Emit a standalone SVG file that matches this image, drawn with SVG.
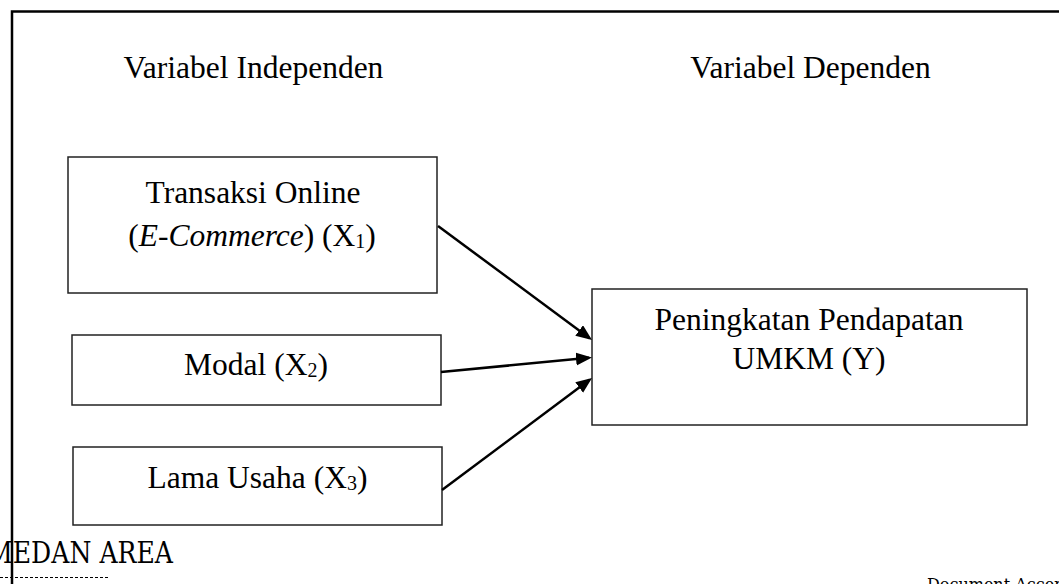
<svg xmlns="http://www.w3.org/2000/svg" width="1059" height="584" viewBox="0 0 1059 584">
<style>
.box{fill:#fff;stroke:#222;stroke-width:1.5}
.t{font-family:"Liberation Serif","Times New Roman",serif;font-size:31.5px;fill:#000;text-anchor:middle}
.sub{font-size:20px}
.conn{stroke:#000;stroke-width:2.5;fill:none;marker-end:url(#ah)}
</style>
<defs>
<marker id="ah" markerUnits="userSpaceOnUse" markerWidth="17" markerHeight="14" refX="13" refY="6.5" orient="auto">
<path d="M0,0 L16,6.5 L0,13 z" fill="#000"/>
</marker>
</defs>
<rect width="1059" height="584" fill="#fff"/>
<path d="M12,584 V11.5 H1059" fill="none" stroke="#000" stroke-width="2.5"/>
<text class="t" x="253.5" y="78">Variabel Independen</text>
<text class="t" x="810.5" y="78">Variabel Dependen</text>
<g id="x1">
<rect class="box" x="68" y="157" width="369" height="136"/>
<text class="t" x="253" y="203">Transaksi Online</text>
<text class="t" x="252" y="246">(<tspan font-style="italic">E-Commerce</tspan>) (X<tspan class="sub" dy="2">1</tspan><tspan dy="-2">)</tspan></text>
</g>
<g id="x2">
<rect class="box" x="72" y="335" width="369" height="70"/>
<text class="t" x="256" y="375">Modal (X<tspan class="sub" dy="2">2</tspan><tspan dy="-2">)</tspan></text>
</g>
<g id="x3">
<rect class="box" x="73" y="447" width="369" height="78"/>
<text class="t" x="257.5" y="488">Lama Usaha (X<tspan class="sub" dy="2">3</tspan><tspan dy="-2">)</tspan></text>
</g>
<g id="y">
<rect class="box" x="592" y="289" width="435" height="136"/>
<text class="t" x="809" y="330">Peningkatan Pendapatan</text>
<text class="t" x="809" y="369">UMKM (Y)</text>
</g>
<g id="connectors">
<line class="conn" x1="438" y1="226" x2="589.6" y2="338.2"/>
<line class="conn" x1="441" y1="372" x2="589" y2="357.8"/>
<line class="conn" x1="442" y1="490" x2="589.6" y2="379.8"/>
</g>
<text x="-13" y="563" font-family="DejaVu Serif, serif" font-size="30" textLength="186" lengthAdjust="spacingAndGlyphs" fill="#000">MEDAN AREA</text>
<line x1="0" y1="577.5" x2="110" y2="577.5" stroke="#000" stroke-width="1" stroke-dasharray="3,2"/>
<text x="927" y="590" font-family="DejaVu Serif, serif" font-size="16" fill="#000">Document Accepted</text>
</svg>
